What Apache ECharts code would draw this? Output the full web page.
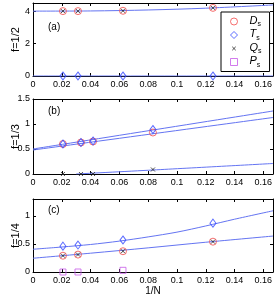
<!DOCTYPE html>
<html><head><meta charset="utf-8">
<script src="https://cdn.jsdelivr.net/npm/echarts@6/dist/echarts.min.js"></script>
<style>html,body{margin:0;padding:0;background:#fff}#c{width:277px;height:299px}</style>
</head><body><div id="c"></div>
<script>
// ---- data ----
const xTicks = [0, 0.02, 0.04, 0.06, 0.08, 0.1, 0.12, 0.14, 0.16];
const panelLabels = ['(a)', '(b)', '(c)'];
const yNames = ['f=1/2', 'f=1/3', 'f=1/4'];
const seriesNames = ['Ds', 'Ts', 'Qs', 'Ps'];

// panel (a) f=1/2
const xA = [0.0208, 0.03125, 0.0625, 0.125];
const aD = [4.0, 4.0, 4.02, 4.2];
const aT = [0, 0, 0, 0];
const aQ = [4.0, 4.0, 4.02, 4.2];
const fitAx = [0, 0.04, 0.08, 0.12, 0.1667];
const fitAD = [4.0, 4.01, 4.07, 4.18, 4.38];
const fitATx = [0, 0.1667];
const fitAT = [0, 0];

// panel (b) f=1/3
const xB = [0.0208, 0.0333, 0.0417, 0.0833];
const bD = [0.6, 0.63, 0.65, 0.83];
const bT = [0.6, 0.63, 0.66, 0.89];
const bQ = [0, 0, 0, 0.09];
const fitBx = [0, 0.1667];
const fitBT = [0.50, 1.26];
const fitBD = [0.48, 1.13];
const fitBQx = [0.03, 0.0833, 0.1667];
const fitBQ = [0, 0.08, 0.21];

// panel (c) f=1/4
const xC = [0.0208, 0.03125, 0.0625, 0.125];
const cD = [0.29, 0.31, 0.37, 0.54];
const cT = [0.46, 0.48, 0.57, 0.87];
const cQ = [0.29, 0.31, 0.37, 0.54];
const xCP = [0.0208, 0.03125, 0.0625];
const cP = [0, 0, 0.03];
const fitCTx = [0, 0.02, 0.04, 0.06, 0.08, 0.10, 0.12, 0.14, 0.1667];
const fitCT = [0.405, 0.445, 0.49, 0.55, 0.625, 0.71, 0.82, 0.94, 1.09];
const fitCx = [0, 0.04, 0.08, 0.12, 0.1667];
const fitCD = [0.245, 0.335, 0.43, 0.53, 0.64];

const yRanges = [[0, 4.5, 2], [0, 1.5, 0.5], [0, 1.3, 0.5]];
// ---------------------------------------

const zip = (xs, ys) => xs.map((x, i) => [x, ys[i]]);
const FONT = 'Liberation Sans';
const RED = '#f34a4a', BLUE = '#3347ff', LINE = '#6474f2', PURPLE = '#c75ae8', BLACK = '#222';
const grids = [
  {left: 33, right: 4, top: 3, height: 73},
  {left: 33, right: 4, top: 99, height: 75},
  {left: 33, right: 4, top: 199, height: 73}
];
const xAxes = [], yAxes = [];
grids.forEach((g, i) => {
  const common = {type: 'value', gridIndex: i, min: 0, max: 0.1667, interval: 0.02,
    splitLine: {show: false}, axisLine: {show: true, onZero: false, lineStyle: {color: '#000', width: 1}},
    axisTick: {show: true, inside: true, length: 3, lineStyle: {color: '#000'}}};
  xAxes.push(Object.assign({}, common, {position: 'bottom',
    axisLabel: {show: true, fontFamily: FONT, fontSize: 9, color: '#000', margin: 4, showMaxLabel: false, showMinLabel: true,
      formatter: v => xTicks.some(t => Math.abs(t - v) < 1e-9) ? String(+v.toFixed(2)) : ''},
    name: i === 2 ? '1/N' : '', nameLocation: 'middle', nameGap: 14, nameMoveOverlap: false,
    nameTextStyle: {fontFamily: FONT, fontSize: 10, color: '#000'}}));
  xAxes.push(Object.assign({}, common, {position: 'top', axisLabel: {show: false}}));
  const [mn, mx, iv] = yRanges[i];
  const onTick = Math.abs(mx / iv - Math.round(mx / iv)) < 1e-9;
  const yc = {type: 'value', gridIndex: i, min: mn, max: mx, interval: iv,
    splitLine: {show: false}, axisLine: {show: true, onZero: false, lineStyle: {color: '#000', width: 1}},
    axisTick: {show: true, inside: true, length: 3, lineStyle: {color: '#000'}}};
  yAxes.push(Object.assign({}, yc, {position: 'left',
    axisLabel: {show: true, fontFamily: FONT, fontSize: 9, color: '#000', margin: 3, showMaxLabel: onTick, showMinLabel: true,
      formatter: v => String(+v.toFixed(2))},
    name: yNames[i], nameLocation: 'middle', nameGap: 12, nameRotate: 90, nameMoveOverlap: false,
    nameTextStyle: {fontFamily: FONT, fontSize: 11, color: '#000'}}));
  yAxes.push(Object.assign({}, yc, {position: 'right', axisLabel: {show: false}}));
});

const xPath = 'path://M0,0L10,10M10,0L0,10';
const xPathLegend = 'path://M0,0L0.001,0M2.5,2.5L7.5,7.5M7.5,2.5L2.5,7.5M10,10L10.001,10';
const styles = {
  Ds: {symbol: 'circle', symbolSize: 7, itemStyle: {color: 'rgba(0,0,0,0)', borderColor: RED, borderWidth: 1}},
  Ts: {symbol: 'diamond', symbolSize: [6, 8], itemStyle: {color: 'rgba(0,0,0,0)', borderColor: BLUE, borderWidth: 1}},
  Qs: {symbol: xPath, symbolSize: 4, itemStyle: {color: 'rgba(0,0,0,0)', borderColor: BLACK, borderWidth: 1}},
  Ps: {symbol: 'rect', symbolSize: 6, itemStyle: {color: 'rgba(0,0,0,0)', borderColor: PURPLE, borderWidth: 1}}
};
const series = [];
function fit(i, xs, ys) {
  series.push({type: 'line', name: 'fit', xAxisIndex: 2 * i, yAxisIndex: 2 * i, data: zip(xs, ys),
    smooth: 0.3, showSymbol: false, symbol: 'none', silent: true, z: 1,
    lineStyle: {color: LINE, width: 1}});
}
function pts(i, name, xs, ys) {
  series.push(Object.assign({type: 'scatter', name, xAxisIndex: 2 * i, yAxisIndex: 2 * i,
    data: zip(xs, ys), z: 3}, styles[name]));
}
fit(0, fitAx, fitAD); fit(0, fitATx, fitAT);
pts(0, 'Ds', xA, aD); pts(0, 'Ts', xA, aT); pts(0, 'Qs', xA, aQ);
fit(1, fitBx, fitBT); fit(1, fitBx, fitBD); fit(1, fitBQx, fitBQ);
pts(1, 'Ds', xB, bD); pts(1, 'Ts', xB, bT); pts(1, 'Qs', xB, bQ);
fit(2, fitCTx, fitCT); fit(2, fitCx, fitCD);
pts(2, 'Ds', xC, cD); pts(2, 'Ts', xC, cT); pts(2, 'Qs', xC, cQ); pts(2, 'Ps', xCP, cP);

const legendIcons = {Ds: 'circle', Ts: 'diamond', Qs: xPathLegend, Ps: 'rect'};
const chart = echarts.init(document.getElementById('c'), null, {renderer: 'canvas'});
chart.setOption({
  animation: false,
  backgroundColor: '#fff',
  grid: grids,
  xAxis: xAxes,
  yAxis: yAxes,
  series,
  legend: {
    left: 221, top: 12, orient: 'vertical', selectedMode: false,
    backgroundColor: '#fff', borderColor: '#000', borderWidth: 1, borderRadius: 0,
    padding: [3, 8, 3, 9], itemGap: 0.5, itemWidth: 7, itemHeight: 7,
    data: seriesNames.map(n => ({name: n, icon: legendIcons[n], itemStyle: styles[n].itemStyle})),
    formatter: n => '{i|' + n[0] + '}{s|' + n.slice(1) + '}',
    textStyle: {padding: [0, 0, 0, 7], rich: {
      i: {fontFamily: FONT, fontSize: 11, fontStyle: 'italic', color: '#000', lineHeight: 13, verticalAlign: 'top'},
      s: {fontFamily: FONT, fontSize: 7, color: '#000', lineHeight: 13, verticalAlign: 'bottom', padding: [5, 0, 0, 0]}
    }}
  },
  graphic: panelLabels.map((t, i) => ({type: 'text', left: 48, top: [22, 106, 205][i],
    style: {text: t, fontFamily: FONT, fontSize: 10, fill: '#000'}}))
});
</script></body></html>
